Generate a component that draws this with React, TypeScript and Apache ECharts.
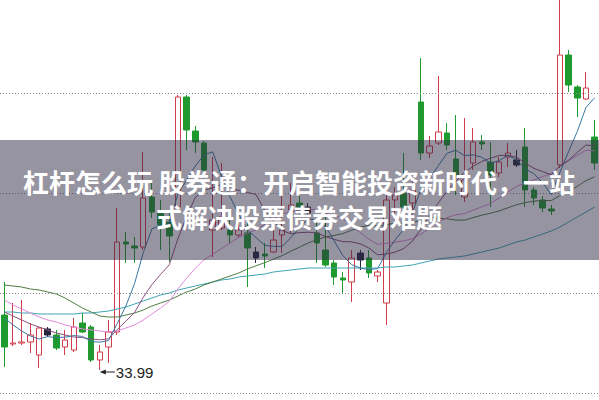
import React, { useEffect, useRef } from "react";
import * as echarts from "echarts";

// Daily K-line: open / close / low / high
const opens = [
  36.74, 35.29, 35.34, 35.39, 34.74, 36.04, 35.74, 35.14, 34.99, 36.34,
  36.14, 34.49, 35.14, 35.89, 40.39, 40.19, 40.14, 42.64, 41.84, 41.39,
  42.14, 47.64, 45.94, 45.34, 40.99, 41.09, 40.99, 40.74, 40.84, 39.89,
  39.79, 39.89, 40.74, 41.99, 42.34, 42.14, 40.84, 39.99, 39.34, 38.59,
  38.39, 39.84, 39.59, 38.69, 37.34, 42.49, 42.84, 42.34, 47.39, 44.84,
  45.34, 45.84, 44.54, 42.64, 44.34, 45.39, 44.39, 43.84, 44.64, 44.49,
  45.14, 42.99, 42.49, 42.04, 44.24, 49.74, 48.14, 47.54, 45.64,
];
const closes = [
  35.14, 35.34, 35.39, 35.74, 36.09, 35.74, 35.09, 35.49, 36.14, 35.89,
  34.49, 34.89, 35.89, 40.39, 40.29, 40.09, 42.59, 41.89, 41.24, 40.69,
  47.64, 45.99, 45.39, 43.99, 41.49, 41.64, 40.74, 40.99, 40.09, 39.59,
  39.69, 40.49, 40.99, 42.24, 42.14, 41.84, 40.34, 39.24, 38.64, 38.49,
  39.59, 39.49, 38.84, 38.89, 42.49, 42.74, 42.14, 42.99, 44.84, 45.19,
  45.89, 45.24, 43.74, 43.49, 45.39, 45.29, 43.74, 44.39, 44.84, 44.24,
  42.99, 42.59, 42.09, 41.94, 49.74, 48.24, 47.59, 48.09, 44.34,
];
const lows = [
  34.14, 35.19, 35.24, 34.84, 34.09, 35.64, 34.99, 34.74, 34.89, 35.84,
  34.39, 33.99, 34.34, 35.74, 39.34, 39.34, 39.99, 41.59, 39.99, 39.39,
  41.99, 44.99, 44.84, 43.59, 39.64, 40.99, 40.34, 40.64, 38.14, 39.34,
  39.09, 39.84, 39.84, 40.84, 41.64, 41.74, 39.34, 39.14, 38.24, 37.84,
  37.39, 38.99, 38.59, 38.39, 36.24, 41.34, 41.14, 41.84, 44.49, 44.59,
  45.24, 44.99, 42.74, 42.39, 43.99, 44.99, 42.14, 43.64, 44.14, 44.14,
  42.14, 42.24, 41.89, 41.74, 44.09, 47.89, 46.64, 47.49, 43.99,
];
const highs = [
  38.39, 37.34, 37.49, 36.34, 36.14, 36.14, 35.99, 35.99, 36.59, 36.84,
  36.24, 35.24, 36.49, 42.09, 40.89, 40.64, 44.89, 43.49, 42.49, 41.99,
  47.74, 47.74, 46.19, 45.44, 44.64, 44.34, 41.49, 41.99, 41.49, 40.14,
  40.34, 41.49, 43.34, 43.34, 42.84, 42.34, 41.49, 41.64, 39.49, 38.89,
  39.99, 39.99, 39.99, 38.99, 42.99, 43.14, 44.84, 43.49, 49.59, 45.69,
  48.69, 46.34, 46.74, 46.59, 46.09, 45.74, 45.39, 44.64, 45.34, 44.99,
  46.09, 43.14, 42.69, 42.24, 52.99, 49.99, 48.24, 48.89, 46.49,
];

// Moving averages
const ma5 = [
  36.59, 36.24, 35.94, 35.69, 35.54, 35.66, 35.61, 35.63, 35.71, 35.67,
  35.42, 35.38, 35.46, 36.31, 37.19, 38.31, 39.85, 41.05, 41.22, 41.3,
  42.81, 43.49, 44.19, 44.74, 44.9, 43.7, 42.65, 41.77, 40.99, 40.61,
  40.22, 40.17, 40.17, 40.6, 41.11, 41.54, 41.51, 41.16, 40.44, 39.71,
  39.26, 39.09, 39.01, 39.06, 39.86, 40.49, 41.02, 41.85, 43.04, 43.58,
  44.21, 44.83, 44.98, 44.71, 44.75, 44.63, 44.33, 44.46, 44.73, 44.5,
  44.04, 43.81, 43.35, 42.77, 43.87, 44.92, 45.92, 47.12, 47.6,
];
const ma10 = [
  36.89, 36.69, 36.49, 36.29, 36.14, 35.99, 35.84, 35.74, 35.64, 35.61,
  35.54, 35.5, 35.55, 36.01, 36.43, 36.87, 37.62, 38.26, 38.77, 39.25,
  40.56, 41.67, 42.62, 42.98, 43.1, 43.26, 43.07, 42.98, 42.87, 42.76,
  41.96, 41.41, 40.97, 40.8, 40.86, 40.88, 40.84, 40.67, 40.52, 40.41,
  40.4, 40.3, 40.09, 39.75, 39.79, 39.88, 40.06, 40.43, 41.05, 41.72,
  42.35, 42.93, 43.42, 43.88, 44.17, 44.42, 44.58, 44.72, 44.72, 44.63,
  44.34, 44.07, 43.91, 43.75, 44.19, 44.48, 44.87, 45.24, 45.19,
];
const ma20 = [
  37.49, 37.24, 37.04, 36.84, 36.64, 36.49, 36.39, 36.24, 36.14, 36.04,
  35.99, 35.94, 35.89, 35.94, 36.09, 36.24, 36.49, 36.79, 37.09, 37.43,
  38.05, 38.58, 39.08, 39.5, 39.77, 40.06, 40.34, 40.62, 40.82, 41.0,
  41.26, 41.54, 41.8, 41.89, 41.98, 42.07, 41.96, 41.82, 41.69, 41.58,
  41.18, 40.86, 40.53, 40.27, 40.32, 40.38, 40.45, 40.55, 40.79, 41.07,
  41.38, 41.61, 41.75, 41.81, 41.98, 42.15, 42.32, 42.58, 42.89, 43.17,
  43.34, 43.5, 43.66, 43.81, 44.18, 44.45, 44.72, 44.98, 44.95,
];
const ma30 = [
  38.24, 38.19, 38.14, 38.04, 37.99, 37.89, 37.79, 37.59, 37.34, 37.09,
  36.89, 36.69, 36.64, 36.64, 36.74, 36.84, 36.99, 37.19, 37.34, 37.49,
  37.69, 37.89, 38.04, 38.24, 38.39, 38.54, 38.69, 38.84, 39.04, 39.2,
  39.36, 39.53, 39.71, 39.93, 40.13, 40.34, 40.51, 40.64, 40.72, 40.81,
  40.98, 41.13, 41.23, 41.18, 41.25, 41.34, 41.32, 41.36, 41.48, 41.63,
  41.57, 41.55, 41.49, 41.48, 41.61, 41.73, 41.83, 41.94, 42.1, 42.25,
  42.36, 42.43, 42.47, 42.46, 42.71, 42.93, 43.17, 43.46, 43.65,
];
const ma60 = [
  36.89, 36.89, 36.84, 36.84, 36.79, 36.79, 36.79, 36.79, 36.79, 36.84,
  36.84, 36.89, 36.94, 37.04, 37.14, 37.29, 37.44, 37.59, 37.74, 37.84,
  37.99, 38.09, 38.19, 38.29, 38.39, 38.49, 38.54, 38.64, 38.69, 38.74,
  38.79, 38.89, 38.94, 38.99, 39.04, 39.09, 39.09, 39.09, 39.09, 39.09,
  39.09, 39.09, 39.09, 39.09, 39.14, 39.14, 39.19, 39.24, 39.34, 39.44,
  39.54, 39.59, 39.64, 39.69, 39.79, 39.89, 39.99, 40.09, 40.24, 40.39,
  40.49, 40.64, 40.79, 40.94, 41.14, 41.39, 41.64, 41.89, 42.14,
];

// Price levels of the dotted reference lines
const gridLevels = [32.84, 37.84, 42.84, 47.84];

// Sessions drawn as small dark bodies
const darkDays = [5, 29, 35, 41, 59];

const days = opens.map((_, i) => `${i + 1}`);

const titleLines = [
  "杠杆怎么玩 股券通：开启智能投资新时代，一站",
  "式解决股票债券交易难题",
];

const RED = "#d23c4b";
const GREEN = "#1f9a2e";
const DARK = "#26263f";

export default function App() {
  const ref = useRef<HTMLDivElement>(null);

  useEffect(() => {
    if (!ref.current) return;
    const chart = echarts.init(ref.current, undefined, { renderer: "svg" });

    const candles = opens.map((o, i) => {
      const value = [o, closes[i], lows[i], highs[i]];
      if (darkDays.includes(i)) {
        return {
          value,
          itemStyle: { color: DARK, color0: DARK, borderColor: DARK, borderColor0: DARK },
        };
      }
      return value;
    });

    const maLine = (name: string, data: number[], color: string) => ({
      name,
      type: "line",
      data,
      showSymbol: false,
      smooth: false,
      silent: true,
      z: 3,
      lineStyle: { color, width: 1 },
    });

    chart.setOption({
      animation: false,
      backgroundColor: "#ffffff",
      grid: { left: -1, top: 0, width: 602, height: 400 },
      xAxis: {
        type: "category",
        data: days,
        boundaryGap: true,
        show: false,
      },
      yAxis: {
        type: "value",
        min: 32.49,
        max: 52.49,
        show: false,
        splitLine: { show: false },
      },
      series: [
        {
          name: "K",
          type: "candlestick",
          data: candles,
          barWidth: 6,
          z: 2,
          itemStyle: {
            color: "#ffffff",
            borderColor: RED,
            color0: GREEN,
            borderColor0: GREEN,
            borderWidth: 1,
          },
          markLine: {
            silent: true,
            symbol: ["none", "none"],
            label: { show: false },
            lineStyle: { type: [1, 2], color: "#8c8c8c", width: 1 },
            data: gridLevels.map((v) => ({ yAxis: v })),
          },
        },
        maLine("MA60", ma60, "#3ea3b4"),
        maLine("MA30", ma30, "#4f7d45"),
        maLine("MA20", ma20, "#e38ade"),
        maLine("MA10", ma10, "#8b4f7e"),
        maLine("MA5", ma5, "#3b77a3"),
      ],
    });

    // Lowest low annotation
    const lowIdx = lows.indexOf(Math.min(...lows));
    const [px, py] = chart.convertToPixel({ gridIndex: 0 }, [lowIdx, lows[lowIdx]]) as number[];
    const ay = py + 2;

    chart.setOption({
      graphic: [
        {
          type: "line",
          z: 50,
          shape: { x1: px + 2, y1: ay, x2: px + 15, y2: ay },
          style: { stroke: "#222", lineWidth: 1 },
        },
        {
          type: "polygon",
          z: 50,
          shape: { points: [[px, ay], [px + 6, ay - 2.5], [px + 6, ay + 2.5]] },
          style: { fill: "#222" },
        },
        {
          type: "text",
          z: 50,
          x: px + 16,
          y: ay,
          style: {
            text: lows[lowIdx].toFixed(2),
            fill: "#222",
            font: "15px 'Liberation Sans', Arial, sans-serif",
            textVerticalAlign: "middle",
          },
        },
        {
          type: "rect",
          z: 100,
          shape: { x: 0, y: 140, width: 599, height: 120 },
          style: { fill: "rgba(45,42,65,0.5)" },
        },
        ...titleLines.map((t, k) => ({
          type: "text",
          z: 101,
          x: 299,
          y: 181 + k * 35,
          style: {
            text: t,
            fill: "#ffffff",
            font: "bold 26px 'Noto Sans CJK SC', sans-serif",
            textAlign: "center",
            textVerticalAlign: "middle",
          },
        })),
      ],
    });

    return () => chart.dispose();
  }, []);

  return (
    <div
      ref={ref}
      style={{ position: "fixed", left: 0, top: 0, width: 599, height: 400, background: "#fff" }}
    />
  );
}
